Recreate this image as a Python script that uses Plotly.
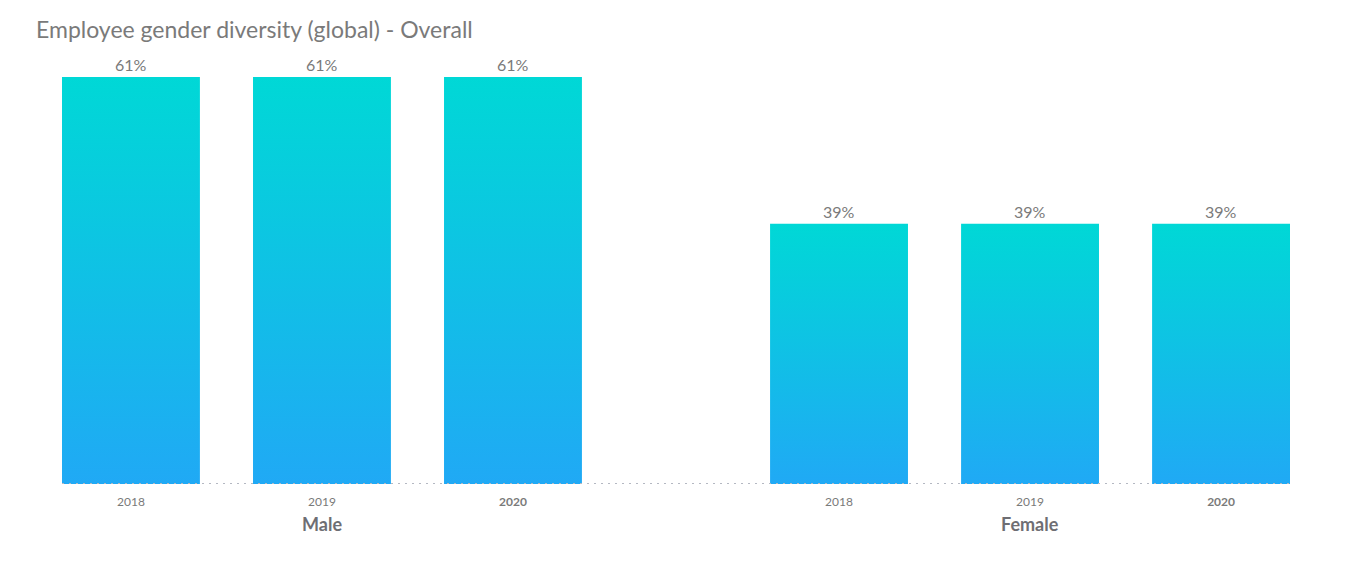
import plotly.graph_objects as go

# ---- data ----
groups = ["Male", "Female"]
years = ["2018", "2019", "2020"]
male_values = [61, 61, 61]
female_values = [39, 39, 39]
title_text = "Employee gender diversity (global) - Overall"

values_by_group = [male_values, female_values]

# ---- styling / layout params ----
group_gap = 0.707
bar_half = 0.361
top_color = "#00D8D6"
bottom_color = "#20A9F5"
font_family = "Lato, 'Open Sans', sans-serif"

fig = go.Figure()

xs, tickvals, ticktext, group_centers = [], [], [], []
for gi, (g, vals) in enumerate(zip(groups, values_by_group)):
    base = gi * (len(years) + group_gap)
    for yi, (yr, v) in enumerate(zip(years, vals)):
        x = base + yi
        fig.add_trace(go.Scatter(
            x=[x - bar_half, x + bar_half, x + bar_half, x - bar_half, x - bar_half],
            y=[0, 0, v, v, 0],
            mode="lines", line=dict(width=0), fill="toself",
            fillgradient=dict(type="vertical", start=0, stop=v,
                              colorscale=[[0, bottom_color], [1, top_color]]),
            hoverinfo="skip", showlegend=False,
        ))
        fig.add_annotation(x=x, y=v, xref="x", yref="y", text=f"{v}%",
                           showarrow=False, yanchor="bottom", yshift=1,
                           font=dict(size=16, color="#7a7a7a", family=font_family))
        xs.append(x)
        tickvals.append(x)
        ticktext.append(f"<b>{yr}</b>" if yi == len(years) - 1 else yr)
    group_centers.append(base + (len(years) - 1) / 2)

xmin = -bar_half
xmax = xs[-1] + bar_half
fig.add_shape(type="line", xref="x", yref="y", x0=xmin, x1=xmax, y0=0, y1=0,
              layer="above",
              line=dict(color="#b4b8c2", width=2, dash="2px,5px"))

for g, c in zip(groups, group_centers):
    fig.add_annotation(x=c, y=0, xref="x", yref="y", text=f"<b>{g}</b>",
                       showarrow=False, yshift=-40,
                       font=dict(size=18, color="#6e6e73", family=font_family))

fig.update_layout(
    width=1353, height=564,
    margin=dict(l=54, r=71, t=42, b=88),
    paper_bgcolor="white", plot_bgcolor="white",
    title=dict(text=title_text, x=0, xref="paper", y=0.961, yref="container",
               xanchor="left", yanchor="middle",
               pad=dict(l=-26),
               font=dict(size=23, color="#7a7a7a", family=font_family)),
    xaxis=dict(range=[xmin, xmax], tickvals=tickvals, ticktext=ticktext,
               showgrid=False, zeroline=False, showline=False, ticks="",
               ticklabelstandoff=9,
               tickfont=dict(size=12, color="#7a7a7a", family=font_family)),
    yaxis=dict(range=[0, 65.05], visible=False, showgrid=False, zeroline=False),
    showlegend=False,
)

fig.write_html("out.html")
